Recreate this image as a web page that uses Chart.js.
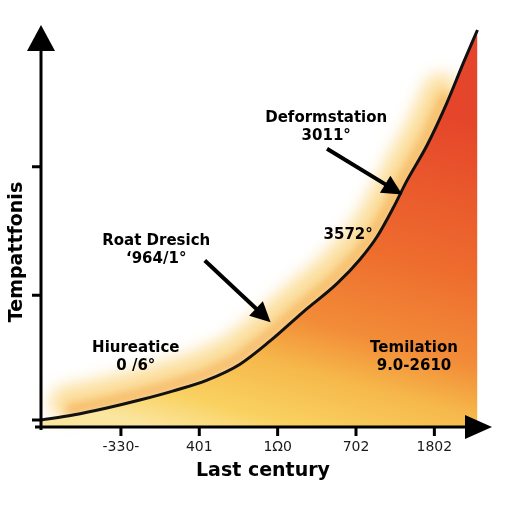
<!DOCTYPE html>
<html>
<head>
<meta charset="utf-8">
<style>
  html, body { margin: 0; padding: 0; background: #fff; }
  #wrap { width: 512px; height: 512px; }
</style>
</head>
<body>
<div id="wrap"><canvas id="myChart" width="512" height="512"></canvas></div>

<script src="https://cdn.jsdelivr.net/npm/chart.js"></script>
<script>
  // curve (x in tick steps, y in axis units 0..40)
  const curveX = [-1.03, -0.61, -0.18, 0.24, 0.66, 1.10, 1.52, 1.90, 2.32, 2.76, 3.05, 3.27, 3.47, 3.65, 3.91, 4.16, 4.37, 4.55]
  const curveY = [0.7, 1.2, 1.9, 2.7, 3.6, 4.7, 6.3, 8.6, 11.5, 14.4, 16.8, 19.1, 21.9, 24.7, 28.3, 32.5, 36.5, 39.8]

  const xTickValues = [0, 1, 2, 3, 4]
  const xTickLabels = ['-330-', '401', '1\u03A90', '702', '1802']
  const yTickValues = [0.7, 13.2, 26.1]

  const xTitle = 'Last century'
  const yTitle = 'Tempattfonis'

  // annotation text, placed in data coordinates
  const notes = [
    {lines: ['Deformstation', '3011\u00B0'], x: 2.62, y: 31.0},
    {lines: ['Roat Dresich', '\u2018964/1\u00B0'], x: 0.45, y: 18.6},
    {lines: ['3572\u00B0'], x: 2.90, y: 19.2},
    {lines: ['Hiureatice', '0 /6\u00B0'], x: 0.19, y: 7.9},
    {lines: ['Temilation', '9.0-2610'], x: 3.74, y: 7.9},
  ]
  // arrows: from -> to, data coordinates
  const arrows = [
    {x0: 2.63, y0: 27.9, x1: 3.59, y1: 23.3},
    {x0: 1.07, y0: 16.7, x1: 1.91, y1: 10.5},
  ]

  const FONT = '"DejaVu Sans", sans-serif'

  function arrowHead(ctx, x0, y0, x1, y1, len, half) {
    const a = Math.atan2(y1 - y0, x1 - x0)
    ctx.beginPath()
    ctx.moveTo(x1, y1)
    ctx.lineTo(x1 - len * Math.cos(a) + half * Math.sin(a), y1 - len * Math.sin(a) - half * Math.cos(a))
    ctx.lineTo(x1 - len * Math.cos(a) - half * Math.sin(a), y1 - len * Math.sin(a) + half * Math.cos(a))
    ctx.closePath()
    ctx.fill()
  }

  // soft yellow/orange halo just above the curve
  function haloPath(ctx, pts, dx, dy) {
    ctx.beginPath()
    pts.forEach((p, i) => {
      if (i === 0) ctx.moveTo(p.x + dx, p.y + dy); else ctx.lineTo(p.x + dx, p.y + dy)
    })
  }
  const glow = {
    id: 'glow',
    beforeDatasetsDraw: (chart) => {
      const {ctx} = chart
      const pts = chart.getDatasetMeta(0).data.slice(1, -2)
      ctx.save()
      ctx.lineJoin = 'round'
      ctx.lineCap = 'round'
      ctx.filter = 'blur(8px)'
      ctx.strokeStyle = 'rgba(248, 200, 90, 0.6)'
      ctx.lineWidth = 34
      haloPath(ctx, pts, -6, -12)
      ctx.stroke()
      ctx.filter = 'blur(4px)'
      ctx.strokeStyle = 'rgba(242, 160, 60, 0.55)'
      ctx.lineWidth = 12
      haloPath(ctx, pts, -2, -5)
      ctx.stroke()
      ctx.restore()
    }
  }

  const axes = {
    id: 'axes',
    afterDatasetsDraw: (chart) => {
      const {ctx} = chart
      const {top, bottom, left, right} = chart.chartArea
      const xs = chart.scales.x, ys = chart.scales.y
      ctx.save()
      ctx.fillStyle = '#000'
      ctx.strokeStyle = '#000'
      ctx.lineWidth = 3

      // axis lines
      ctx.beginPath()
      ctx.moveTo(left, bottom + 3)
      ctx.lineTo(left, top + 10)
      ctx.moveTo(left - 6, bottom)
      ctx.lineTo(right - 10, bottom)
      ctx.stroke()
      arrowHead(ctx, left, top + 30, left, top - 3, 26, 14)
      arrowHead(ctx, left, bottom, right + 2, bottom, 27, 12)

      // ticks
      ctx.beginPath()
      yTickValues.forEach(v => {
        const py = ys.getPixelForValue(v)
        ctx.moveTo(left - 9, py)
        ctx.lineTo(left, py)
      })
      xTickValues.forEach(v => {
        const px = xs.getPixelForValue(v)
        ctx.moveTo(px, bottom)
        ctx.lineTo(px, bottom + 9)
      })
      ctx.stroke()

      // tick labels
      ctx.fillStyle = '#1a1a1a'
      ctx.font = '14px ' + FONT
      ctx.textAlign = 'center'
      ctx.textBaseline = 'middle'
      xTickValues.forEach((v, i) => {
        ctx.fillText(xTickLabels[i], xs.getPixelForValue(v), bottom + 20)
      })

      // titles
      ctx.fillStyle = '#000'
      ctx.font = 'bold 19px ' + FONT
      ctx.fillText(xTitle, 263, bottom + 44)
      ctx.save()
      ctx.translate(17, 252)
      ctx.rotate(-Math.PI / 2)
      ctx.font = 'bold 19px ' + FONT
      ctx.fillText(yTitle, 0, 0)
      ctx.restore()

      // annotation arrows
      ctx.lineWidth = 4
      arrows.forEach(a => {
        const x0 = xs.getPixelForValue(a.x0), y0 = ys.getPixelForValue(a.y0)
        const x1 = xs.getPixelForValue(a.x1), y1 = ys.getPixelForValue(a.y1)
        const ang = Math.atan2(y1 - y0, x1 - x0)
        ctx.beginPath()
        ctx.moveTo(x0, y0)
        ctx.lineTo(x1 - 12 * Math.cos(ang), y1 - 12 * Math.sin(ang))
        ctx.stroke()
        arrowHead(ctx, x0, y0, x1, y1, 20, 10)
      })

      // annotation text
      ctx.font = 'bold 15px ' + FONT
      notes.forEach(n => {
        const px = xs.getPixelForValue(n.x), py = ys.getPixelForValue(n.y)
        n.lines.forEach((t, i) => ctx.fillText(t, px, py + i * 18))
      })
      ctx.restore()
    }
  }

  const ctx = document.getElementById('myChart')

  new Chart(ctx, {
    type: 'line',
    data: {
      datasets: [{
        data: curveX.map((x, i) => ({x: x, y: curveY[i]})),
        borderColor: '#111',
        borderWidth: 3,
        pointRadius: 0,
        cubicInterpolationMode: 'monotone',
        fill: 'origin',
        backgroundColor: (c) => {
          const area = c.chart.chartArea
          if (!area) return '#f7b045'
          const g = c.chart.ctx.createLinearGradient(150, area.bottom, 250, area.top + 32)
          g.addColorStop(0, '#fbe6a0')
          g.addColorStop(0.1, '#f9d262')
          g.addColorStop(0.25, '#f6b84a')
          g.addColorStop(0.38, '#f28c38')
          g.addColorStop(0.6, '#ee6d2e')
          g.addColorStop(1, '#e5452a')
          return g
        }
      }]
    },
    options: {
      responsive: false,
      animation: false,
      layout: {padding: {left: 41, top: 28, right: 22, bottom: 85}},
      scales: {
        x: {type: 'linear', min: -1.02, max: 4.71, display: false},
        y: {type: 'linear', min: 0, max: 40, display: false}
      },
      plugins: {
        legend: {display: false},
        tooltip: {enabled: false}
      }
    },
    plugins: [glow, axes]
  })
</script>
</body>
</html>
